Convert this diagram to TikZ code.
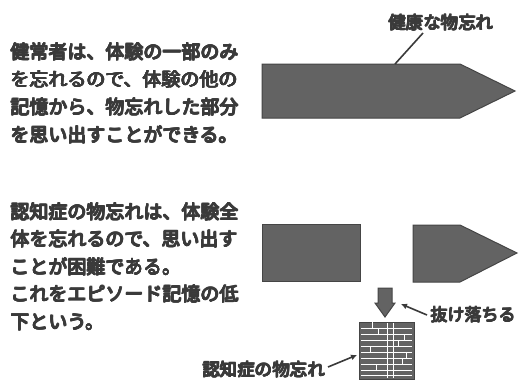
\documentclass[tikz,border=0pt]{standalone}
\usepackage{fontspec}
\newfontfamily\jpfont{Noto Sans CJK JP}
\newcommand\heavytxt[1]{\leavevmode\rlap{#1}\rlap{\hspace{0.8pt}#1}\rlap{\raisebox{0.7pt}{#1}}\rlap{\hspace{0.8pt}\raisebox{0.7pt}{#1}}\rlap{\hspace{0.4pt}\raisebox{0.35pt}{#1}}\rlap{\hspace{0.4pt}#1}\rlap{\raisebox{0.35pt}{#1}}#1}
\usetikzlibrary{arrows.meta}
\definecolor{txt}{HTML}{3A3A3A}
\definecolor{shp}{HTML}{636363}
\definecolor{shpline}{HTML}{454545}
\tikzset{
  body/.style={anchor=base west, inner sep=0pt, text=txt, font=\jpfont\fontsize{19}{19}\selectfont},
  lbl/.style={anchor=base west, inner sep=0pt, text=txt, font=\jpfont\fontsize{17.5}{17.5}\selectfont},
  block/.style={fill=shp, draw=shpline, line width=1pt},
  leader/.style={draw=txt, line width=1.6pt},
  leadarrow/.style={leader, -{Latex[length=6pt,width=6pt]}}
}
\begin{document}
\begin{tikzpicture}[x=1pt,y=-1pt]
\useasboundingbox (0,0) rectangle (519,383);
\fill[white] (0,0) rectangle (519,383);
% left text, block 1
\node[body] (a1) at (10,59) {\heavytxt{健常者は、体験の一部のみ}};
\node[body] (a2) at (10,86.7) {\heavytxt{を忘れるので、体験の他の}};
\node[body] (a3) at (10,114.4) {\heavytxt{記憶から、物忘れした部分}};
\node[body] (a4) at (10,142.1) {\heavytxt{を思い出すことができる。}};
% left text, block 2
\node[body] (b1) at (10,219) {\heavytxt{認知症の物忘れは、体験全}};
\node[body] (b2) at (10,246.5) {\heavytxt{体を忘れるので、思い出す}};
\node[body] (b3) at (10,274) {\heavytxt{ことが困難である。}};
\node[body] (b4) at (10,301.5) {\heavytxt{これをエピソード記憶の低}};
\node[body] (b5) at (10,329) {\heavytxt{下という。}};
% top arrow
\draw[block] (262,64) -- (460,64) -- (515,91) -- (460,118) -- (262,118) -- cycle;
\coordinate (topedge) at (395,64);
\node[lbl] (healthy) at (388,29.6) {\heavytxt{健康な物忘れ}};
\coordinate (hl) at (423,33);
\draw[leader] (hl) -- (topedge);
% bottom pieces
\draw[block] (262,224) rectangle (360,281);
\draw[block] (413,225) -- (460,225) -- (517,253) -- (460,282) -- (413,282) -- cycle;
% down arrow
\draw[block] (378,288) -- (392,288) -- (392,303) -- (395,303) -- (385,317) -- (375,303) -- (378,303) -- cycle;
\coordinate (darr) at (401,304);
\node[lbl, font=\jpfont\fontsize{17}{17}\selectfont] (drop) at (430,321.5) {\heavytxt{抜け落ちる}};
\coordinate (dl) at (427,315);
\draw[leadarrow] (dl) -- (darr);
% brick box
\draw[block] (359,322) rectangle (414,379);
\begin{scope}[white, line width=0.8pt]
\foreach \yy in {328,334,340,346,352,358,364,370,375} {\draw (361,\yy) -- (412,\yy);}
\draw (387,323) -- (387,378);
\draw (393,323) -- (393,378);
\foreach \yy/\xx in {328/372,340/404,352/370,364/402,370/376,358/406,334/378,346/398} {\draw (\xx,\yy-6) -- (\xx,\yy);}
\end{scope}
\node[lbl] (dementia) at (202,376.6) {\heavytxt{認知症の物忘れ}};
\coordinate (ml) at (328,367);
\coordinate (box) at (357,355);
\draw[leadarrow] (ml) -- (box);
\end{tikzpicture}
\end{document}
